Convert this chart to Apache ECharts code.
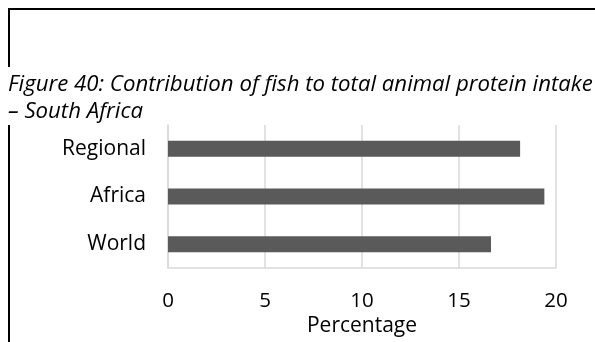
<!DOCTYPE html>
<html>
<head>
<meta charset="utf-8">
<script src="https://cdn.jsdelivr.net/npm/echarts@6/dist/echarts.min.js"></script>
<style>
  html, body { margin: 0; padding: 0; background: #fff; }
  #chart { width: 595px; height: 342px; }
</style>
</head>
<body>
<div id="chart"></div>
<script>
// Fish share of total animal protein intake, South Africa vs. Africa and the world
const categories = ['Regional', 'Africa', 'World'];
const shareValues = [18.15, 19.4, 16.65];
const xTicks = { min: 0, max: 20, interval: 5 };
const axisTitle = 'Percentage';
const captionLines = [
  'Figure 40: Contribution of fish to total animal protein intake',
  '– South Africa'
];

const FONT = '"Open Sans", "Noto Sans", sans-serif';
const chart = echarts.init(document.getElementById('chart'), null, { renderer: 'canvas' });

chart.setOption({
  animation: false,
  backgroundColor: '#ffffff',
  grid: { left: 168, right: 39, top: 125, bottom: 74, containLabel: false },
  xAxis: {
    type: 'value',
    min: xTicks.min,
    max: xTicks.max,
    interval: xTicks.interval,
    name: axisTitle,
    nameLocation: 'middle',
    nameGap: 48,
    nameTextStyle: { fontFamily: FONT, fontSize: 21, color: '#000' },
    axisLine: { show: true, lineStyle: { color: '#d9d9d9', width: 1.5 } },
    axisTick: { show: false },
    axisLabel: { fontFamily: FONT, fontSize: 20.5, color: '#000', margin: 23 },
    splitLine: { show: true, lineStyle: { color: '#d9d9d9', width: 1.5 } }
  },
  yAxis: {
    type: 'category',
    data: categories,
    inverse: true,
    axisLine: { show: true, lineStyle: { color: '#d9d9d9', width: 1.5 } },
    axisTick: { show: false },
    axisLabel: { fontFamily: FONT, fontSize: 21, color: '#000', margin: 22 },
    splitLine: { show: false }
  },
  series: [{
    type: 'bar',
    data: shareValues,
    barWidth: 16,
    itemStyle: { color: '#5a5a5a' },
    silent: true
  }],
  graphic: [
    // box outline above the caption
    { type: 'polyline', silent: true,
      shape: { points: [[9, 67], [9, 9], [595, 9]] },
      style: { stroke: '#000', lineWidth: 2, fill: null } },
    // left rule beside the chart
    { type: 'line', silent: true,
      shape: { x1: 9, y1: 125, x2: 9, y2: 342 },
      style: { stroke: '#000', lineWidth: 2 } },
    { type: 'text', silent: true, x: 8, y: 85,
      style: { text: captionLines[0], font: 'italic 22.2px ' + FONT,
               fill: '#000', verticalAlign: 'middle', align: 'left' } },
    { type: 'text', silent: true, x: 8, y: 112,
      style: { text: captionLines[1], font: 'italic 22.2px ' + FONT,
               fill: '#000', verticalAlign: 'middle', align: 'left' } }
  ]
});
</script>
</body>
</html>
